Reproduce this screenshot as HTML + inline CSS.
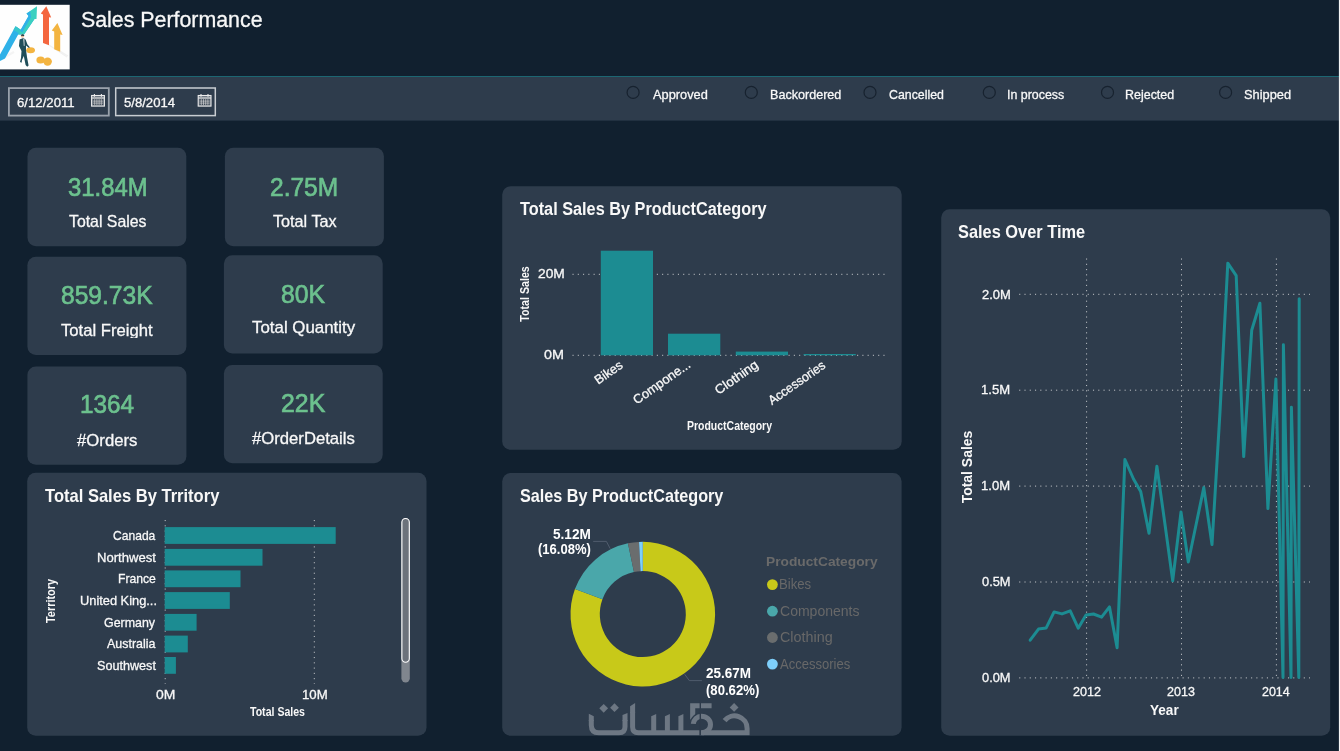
<!DOCTYPE html>
<html><head><meta charset="utf-8"><title>Sales Performance</title>
<style>
html,body{margin:0;padding:0;}
body{width:1340px;height:751px;overflow:hidden;background:#11202f;position:relative;font-family:"Liberation Sans",sans-serif;}
.t{position:absolute;white-space:nowrap;transform-origin:0 0;display:block;}
.t.c{transform-origin:50% 50%;}
.t.r{transform-origin:100% 0;}
.a{position:absolute;width:0;height:0;transform-origin:0 0;}
svg{position:absolute;left:0;top:0;}

</style></head><body>

<svg width="1340" height="751" viewBox="0 0 1340 751">
<rect x="0" y="76" width="1340" height="1.05" fill="#1c6672"/>
<rect x="0" y="77" width="1340" height="43.6" fill="#2e3c4c"/>
<rect x="8.9" y="88.1" width="99.9" height="27.5" fill="none" stroke="#99a1ab" stroke-width="1.8"/>
<rect x="115.7" y="88.0" width="99.6" height="27.6" fill="none" stroke="#c9cdd2" stroke-width="1.5"/>
<rect x="27.5" y="147.7" width="158.80" height="98.60" rx="8.5" fill="#2e3c4c"/>
<rect x="224.9" y="147.7" width="159.00" height="98.60" rx="8.5" fill="#2e3c4c"/>
<rect x="27.4" y="256.7" width="159.00" height="98.20" rx="8.5" fill="#2e3c4c"/>
<rect x="223.9" y="255.3" width="158.80" height="98.10" rx="8.5" fill="#2e3c4c"/>
<rect x="27.4" y="366.6" width="159.00" height="98.10" rx="8.5" fill="#2e3c4c"/>
<rect x="223.9" y="365.1" width="158.80" height="98.20" rx="8.5" fill="#2e3c4c"/>
<rect x="502.2" y="186.3" width="399.50" height="263.50" rx="8.5" fill="#2e3c4c"/>
<rect x="941.2" y="209.3" width="389.00" height="526.50" rx="8.5" fill="#2e3c4c"/>
<rect x="27.2" y="472.8" width="399.30" height="263.00" rx="8.5" fill="#2e3c4c"/>
<rect x="502.2" y="472.9" width="399.40" height="262.90" rx="8.5" fill="#2e3c4c"/>
<rect x="1338.9" y="0" width="1.2" height="751" fill="#f6f6f6"/>
<circle cx="633.1" cy="92.4" r="6" fill="none" stroke="#17222f" stroke-width="1.2"/>
<circle cx="751.3" cy="92.4" r="6" fill="none" stroke="#17222f" stroke-width="1.2"/>
<circle cx="870.0" cy="92.4" r="6" fill="none" stroke="#17222f" stroke-width="1.2"/>
<circle cx="989.3" cy="92.4" r="6" fill="none" stroke="#17222f" stroke-width="1.2"/>
<circle cx="1107.5" cy="92.4" r="6" fill="none" stroke="#17222f" stroke-width="1.2"/>
<circle cx="1225.6" cy="92.4" r="6" fill="none" stroke="#17222f" stroke-width="1.2"/>
<path d="M572.5 274.3H885" stroke="#e8e8e8" stroke-opacity="0.8" stroke-width="1" stroke-dasharray="1.1 4.17" fill="none"/>
<path d="M572.5 355.3H885" stroke="#e8e8e8" stroke-opacity="0.8" stroke-width="1" stroke-dasharray="1.1 4.17" fill="none"/>
<rect x="600.8" y="250.7" width="52.20" height="104.60" fill="#1c8c92"/>
<rect x="668.0" y="333.7" width="52.30" height="21.60" fill="#1c8c92"/>
<rect x="735.8" y="351.6" width="52.20" height="3.70" fill="#1c8c92"/>
<rect x="803.6" y="354.0" width="52.20" height="1.30" fill="#1c8c92"/>
<path d="M165.2 520V684" stroke="#e8e8e8" stroke-opacity="0.8" stroke-width="1" stroke-dasharray="1.1 4.17" fill="none"/>
<path d="M314.3 520V684" stroke="#e8e8e8" stroke-opacity="0.8" stroke-width="1" stroke-dasharray="1.1 4.17" fill="none"/>
<rect x="164.7" y="527.1" width="171.00" height="16.80" fill="#1c8c92"/>
<rect x="164.7" y="548.9" width="97.80" height="16.80" fill="#1c8c92"/>
<rect x="164.7" y="570.4" width="75.80" height="16.80" fill="#1c8c92"/>
<rect x="164.7" y="592.1" width="65.10" height="16.80" fill="#1c8c92"/>
<rect x="164.7" y="613.9" width="31.90" height="16.80" fill="#1c8c92"/>
<rect x="164.7" y="635.6" width="23.10" height="16.80" fill="#1c8c92"/>
<rect x="164.7" y="657.0" width="11.20" height="16.80" fill="#1c8c92"/>
<rect x="401.4" y="518" width="8.4" height="164.5" rx="4.2" fill="#80868e"/>
<rect x="401.9" y="518.5" width="7.4" height="143.8" rx="3.7" fill="#6c727b" stroke="#ffffff" stroke-width="1.1"/>
<path d="M1019.2 294.3H1310" stroke="#e8e8e8" stroke-opacity="0.8" stroke-width="1" stroke-dasharray="1.1 4.17" fill="none"/>
<path d="M1019.2 390.2H1310" stroke="#e8e8e8" stroke-opacity="0.8" stroke-width="1" stroke-dasharray="1.1 4.17" fill="none"/>
<path d="M1019.2 486.1H1310" stroke="#e8e8e8" stroke-opacity="0.8" stroke-width="1" stroke-dasharray="1.1 4.17" fill="none"/>
<path d="M1019.2 582.0H1310" stroke="#e8e8e8" stroke-opacity="0.8" stroke-width="1" stroke-dasharray="1.1 4.17" fill="none"/>
<path d="M1019.2 677.9H1310" stroke="#e8e8e8" stroke-opacity="0.8" stroke-width="1" stroke-dasharray="1.1 4.17" fill="none"/>
<path d="M1086.6 258.5V678" stroke="#e8e8e8" stroke-opacity="0.8" stroke-width="1" stroke-dasharray="1.1 4.17" fill="none"/>
<path d="M1181.5 258.5V678" stroke="#e8e8e8" stroke-opacity="0.8" stroke-width="1" stroke-dasharray="1.1 4.17" fill="none"/>
<path d="M1276.4 258.5V678" stroke="#e8e8e8" stroke-opacity="0.8" stroke-width="1" stroke-dasharray="1.1 4.17" fill="none"/>
<polyline points="1030.2,640.2 1038.5,629.1 1046.2,627.9 1054.1,611.9 1062.0,613.9 1070.2,610.8 1078.2,628.2 1086.0,615.0 1093.5,614.0 1101.6,617.2 1109.5,606.9 1117.1,647.7 1124.9,459.5 1133.5,479 1140.7,491.5 1149.0,533.2 1156.9,466.3 1164.8,523 1172.7,580.8 1181.0,512 1188.3,562 1196.0,525 1203.8,487.6 1212.0,544.6 1220.0,412 1227.8,263.2 1236.2,275.7 1243.7,456.6 1251.7,330.3 1259.9,303.3 1267.9,508.6 1275.9,379 1283.0,677.5 1283.4,344.7 1291.0,677.5 1291.4,407.2 1298.8,677.5 1299.2,298.8" fill="none" stroke="#1c8c92" stroke-width="3" stroke-linejoin="round" stroke-linecap="round"/>
<path d="M642.80 541.80A72.3 72.3 0 1 1 574.96 589.10L602.45 599.23A43.0 43.0 0 1 0 642.80 571.10Z" fill="#c8c919"/>
<path d="M574.96 589.10A72.3 72.3 0 0 1 627.92 543.35L633.95 572.02A43.0 43.0 0 0 0 602.45 599.23Z" fill="#4aa7aa"/>
<path d="M627.92 543.35A72.3 72.3 0 0 1 639.02 541.90L640.55 571.16A43.0 43.0 0 0 0 633.95 572.02Z" fill="#6a6d6e"/>
<path d="M639.02 541.90A72.3 72.3 0 0 1 642.80 541.80L642.80 571.10A43.0 43.0 0 0 0 640.55 571.16Z" fill="#7ecffa"/>
<circle cx="772.4" cy="584.6" r="5.4" fill="#c8c919"/>
<circle cx="772.4" cy="611.2" r="5.4" fill="#4aa7aa"/>
<circle cx="772.4" cy="637.5" r="5.4" fill="#6a6d6e"/>
<circle cx="772.4" cy="664.1" r="5.4" fill="#7ecffa"/>
<path d="M610.2 548.6L606.4 541.4H593.2" fill="none" stroke="#536070" stroke-width="0.9"/>
<path d="M684.7 674.3L689.3 680.6H701.9" fill="none" stroke="#536070" stroke-width="0.9"/>
<rect x="0" y="4.8" width="69.7" height="64.6" fill="#fefefe"/>
<g>
<path d="M49 45L67 57M60 51L68 56" stroke="#f1f1f1" stroke-width="1.2" fill="none"/>
<path d="M3 58L14 52" stroke="#f4f4f4" stroke-width="2" fill="none"/>
<path d="M0 54.5L15.5 26.2L21 30L29 16L34.5 19L24 34.5L18.2 34.5L5 58.5L0 61Z" fill="#2fb1e8"/>
<path d="M15.5 26.2L21 30L29 16L26.5 13.5L37 6.2L36.5 19L34.5 19L24 34.5L18.2 34.5L19.5 31Z" fill="#3bd0c0"/>
<path d="M15.5 26.2L21 30L19.2 33.5L13.5 30Z" fill="#37c6cc"/>
<path d="M20.2 30.6L28.4 15.9L26.5 13.5L30.2 11.2L31 17.3L22.2 32.4Z" fill="#2fb1e8"/>
<path d="M46.3 6.2L51.2 17.6L49 17.2L49 45.3L43 43L43 14.6L40.8 13.4Z" fill="#f4663f"/>
<path d="M57.4 23L62.6 35L60.2 34.5L60.2 51.8L54.2 49.2L54.2 31.6L51.8 30.4Z" fill="#f3b441"/>
<ellipse cx="30.6" cy="50.2" rx="4.4" ry="3" fill="#f3b441"/>
<ellipse cx="40.6" cy="60" rx="4.2" ry="3.6" fill="#f3b441"/>
<ellipse cx="47.6" cy="61.6" rx="4.3" ry="4.2" fill="#f3b441"/>
<circle cx="22.5" cy="36" r="1.7" fill="#e8b998"/>
<path d="M20.8 35.4Q22.5 33 24.3 35.2L24 36L21 35.8Z" fill="#1c3a44"/>
<path d="M19.6 39.5L23.4 38L25.6 39.5L27.5 44.5L29.8 47.2L29 47.9L26 45.5L26 50L27 57L28.6 65.6L27.2 66.8L25.6 65L23.8 56L22 60L21.6 62.8L20 62L21 58L21.5 51L19 46Z" fill="#1f4d59"/>
<path d="M23.2 38.5L23.8 46L24.6 46L24.4 38.5Z" fill="#cfd8dc"/>
</g>
<g transform="translate(91,94.1)"><rect x="0.6" y="1.4" width="12.8" height="10.6" fill="rgba(255,255,255,0.28)" stroke="#ececec" stroke-width="1.1"/><path d="M0.6 3.9H13.4" stroke="#ececec" stroke-width="1"/><path d="M3.4 0V2.6M10.4 0V2.6" stroke="#ececec" stroke-width="1.1"/><path d="M2 5.1H12V10.8H2Z" fill="#2a3746" fill-opacity="0.75"/><path d="M3.7 5V11M5.9 5V11M8.1 5V11M10.3 5V11M2 7H12M2 9H12" stroke="#e0e0e0" stroke-opacity="0.7" stroke-width="0.9"/></g>
<g transform="translate(197.6,94.1)"><rect x="0.6" y="1.4" width="12.8" height="10.6" fill="rgba(255,255,255,0.28)" stroke="#ececec" stroke-width="1.1"/><path d="M0.6 3.9H13.4" stroke="#ececec" stroke-width="1"/><path d="M3.4 0V2.6M10.4 0V2.6" stroke="#ececec" stroke-width="1.1"/><path d="M2 5.1H12V10.8H2Z" fill="#2a3746" fill-opacity="0.75"/><path d="M3.7 5V11M5.9 5V11M8.1 5V11M10.3 5V11M2 7H12M2 9H12" stroke="#e0e0e0" stroke-opacity="0.7" stroke-width="0.9"/></g>
<clipPath id="wmc"><rect x="560" y="690" width="220" height="45.8"/></clipPath>
<g clip-path="url(#wmc)" fill="none" stroke="#6d7783" stroke-width="5">
<path d="M591.3 720V725.3Q591.3 732.8 598.8 732.8H619Q625 732.8 625 726.8V720"/>
<path d="M632.6 712V727Q632.6 732.8 638.4 732.8H699.6"/>
</g>
<g clip-path="url(#wmc)" fill="#6d7783">
<path d="M588.8 713.7L593.8 716.2V721H588.8Z"/>
<path d="M622.5 715.1L627.5 712.9V721H622.5Z"/>
<path d="M630.1 706.2L635.1 703.1V713H630.1Z"/>
<path d="M651.2 716.3L656.2 714.0V732.8H651.2Z"/>
<path d="M664.9 716.3L669.9 714.0V732.8H664.9Z"/>
<path d="M678.4 716.3L683.4 714.0V732.8H678.4Z"/>
</g>
<g clip-path="url(#wmc)" fill="none" stroke="#6d7783" stroke-width="5">
<path d="M711.6 705.8H692.7V719.5" stroke-width="5.1"/>
<path d="M693.3 723.9A8.3 8.3 0 0 1 701.5 716.2A9 8.3 0 0 1 710.5 724.5" stroke="#2e3c4c" stroke-width="7.4"/>
<path d="M693.3 723.9A8.3 8.3 0 0 1 701.5 716.2A9 8.3 0 0 1 701.5 732.8"/>
<path d="M701 732.8H747.1V728.6A12.6 12.6 0 0 0 724.6 720.6"/>
</g>
<g fill="#6d7783">
<path d="M599.3000000000001 708.3L603.7 703.9L608.1 708.3L603.7 712.6999999999999Z"/>
<path d="M610.1 707.7L614.5 703.3000000000001L618.9 707.7L614.5 712.1Z"/>
<path d="M729.7 707.4L734.1 703.0L738.5 707.4L734.1 711.8Z"/>
</g>
<path d="M700.3 700V736" stroke="#2e3b4b" stroke-width="1.4"/>
</svg>
<div style="position:absolute;left:0;top:0;width:1340px;height:751px;will-change:transform">
<span class="t" style="left:80.75px;top:10.00px;font-size:21.51px;line-height:21.51px;font-weight:400;color:#f8f8f8;-webkit-text-stroke:0.3px #f8f8f8;transform:scaleX(0.9929)">Sales Performance</span>
<span class="t" style="left:17.24px;top:96.00px;font-size:13.23px;line-height:13.23px;font-weight:400;color:#f8f8f8;-webkit-text-stroke:0.3px #f8f8f8;transform:scaleX(0.9967)">6/12/2011</span>
<span class="t" style="left:124.28px;top:96.00px;font-size:13.23px;line-height:13.23px;font-weight:400;color:#f8f8f8;-webkit-text-stroke:0.3px #f8f8f8;transform:scaleX(0.9919)">5/8/2014</span>
<span class="t" style="left:652.50px;top:88.00px;font-size:13.52px;line-height:13.52px;font-weight:400;color:#f8f8f8;-webkit-text-stroke:0.3px #f8f8f8;transform:scaleX(0.9474)">Approved</span>
<span class="t" style="left:769.59px;top:88.00px;font-size:13.52px;line-height:13.52px;font-weight:400;color:#f8f8f8;-webkit-text-stroke:0.3px #f8f8f8;transform:scaleX(0.9305)">Backordered</span>
<span class="t" style="left:888.68px;top:88.00px;font-size:13.52px;line-height:13.52px;font-weight:400;color:#f8f8f8;-webkit-text-stroke:0.3px #f8f8f8;transform:scaleX(0.9134)">Cancelled</span>
<span class="t" style="left:1006.88px;top:88.00px;font-size:13.52px;line-height:13.52px;font-weight:400;color:#f8f8f8;-webkit-text-stroke:0.3px #f8f8f8;transform:scaleX(0.9187)">In process</span>
<span class="t" style="left:1125.20px;top:88.00px;font-size:13.52px;line-height:13.52px;font-weight:400;color:#f8f8f8;-webkit-text-stroke:0.3px #f8f8f8;transform:scaleX(0.9222)">Rejected</span>
<span class="t" style="left:1244.49px;top:88.00px;font-size:13.52px;line-height:13.52px;font-weight:400;color:#f8f8f8;-webkit-text-stroke:0.3px #f8f8f8;transform:scaleX(0.9481)">Shipped</span>
<span class="t" style="left:67.78px;top:175.00px;font-size:25.87px;line-height:25.87px;font-weight:400;color:#6cc18e;-webkit-text-stroke:0.7px #6cc18e;transform:scaleX(0.9219)">31.84M</span>
<span class="t" style="left:68.58px;top:214.00px;font-size:16.57px;line-height:16.57px;font-weight:400;color:#f8f8f8;-webkit-text-stroke:0.3px #f8f8f8;transform:scaleX(0.9561)">Total Sales</span>
<span class="t" style="left:270.27px;top:175.00px;font-size:25.87px;line-height:25.87px;font-weight:400;color:#6cc18e;-webkit-text-stroke:0.7px #6cc18e;transform:scaleX(0.9487)">2.75M</span>
<span class="t" style="left:272.58px;top:214.00px;font-size:16.57px;line-height:16.57px;font-weight:400;color:#f8f8f8;-webkit-text-stroke:0.3px #f8f8f8;transform:scaleX(0.9770)">Total Tax</span>
<span class="t" style="left:60.92px;top:283.00px;font-size:25.87px;line-height:25.87px;font-weight:400;color:#6cc18e;-webkit-text-stroke:0.7px #6cc18e;transform:scaleX(0.9499)">859.73K</span>
<span class="t" style="left:61.17px;top:323.00px;font-size:16.57px;line-height:16.57px;font-weight:400;color:#f8f8f8;-webkit-text-stroke:0.3px #f8f8f8;transform:scaleX(1.0046)">Total Freight</span>
<span class="t" style="left:280.81px;top:282.00px;font-size:25.87px;line-height:25.87px;font-weight:400;color:#6cc18e;-webkit-text-stroke:0.7px #6cc18e;transform:scaleX(0.9550)">80K</span>
<span class="t" style="left:251.66px;top:320.00px;font-size:16.57px;line-height:16.57px;font-weight:400;color:#f8f8f8;-webkit-text-stroke:0.3px #f8f8f8;transform:scaleX(1.0190)">Total Quantity</span>
<span class="t" style="left:80.30px;top:392.00px;font-size:25.87px;line-height:25.87px;font-weight:400;color:#6cc18e;-webkit-text-stroke:0.7px #6cc18e;transform:scaleX(0.9388)">1364</span>
<span class="t" style="left:76.90px;top:433.00px;font-size:16.57px;line-height:16.57px;font-weight:400;color:#f8f8f8;-webkit-text-stroke:0.3px #f8f8f8;transform:scaleX(1.0108)">#Orders</span>
<span class="t" style="left:280.56px;top:391.00px;font-size:25.87px;line-height:25.87px;font-weight:400;color:#6cc18e;-webkit-text-stroke:0.7px #6cc18e;transform:scaleX(0.9605)">22K</span>
<span class="t" style="left:252.00px;top:431.00px;font-size:16.57px;line-height:16.57px;font-weight:400;color:#f8f8f8;-webkit-text-stroke:0.3px #f8f8f8;transform:scaleX(1.0067)">#OrderDetails</span>
<span class="t" style="left:519.84px;top:200.00px;font-size:18.90px;line-height:18.90px;font-weight:700;color:#f8f8f8;transform:scaleX(0.8613)">Total Sales By ProductCategory</span>
<span class="t" style="left:537.51px;top:268.00px;font-size:12.50px;line-height:12.50px;font-weight:400;color:#f8f8f8;-webkit-text-stroke:0.3px #f8f8f8;transform:scaleX(1.1019)">20M</span>
<span class="t" style="left:544.37px;top:349.00px;font-size:12.50px;line-height:12.50px;font-weight:400;color:#f8f8f8;-webkit-text-stroke:0.3px #f8f8f8;transform:scaleX(1.1507)">0M</span>
<span class="t c" style="left:525.20px;top:293.60px;font-size:12.50px;line-height:12.50px;font-weight:700;color:#f8f8f8;transform:translate(-50%,-50%) rotate(-90deg) scaleX(0.8528)">Total Sales</span>
<span class="t" style="left:686.57px;top:420.00px;font-size:12.50px;line-height:12.50px;font-weight:700;color:#f8f8f8;transform:scaleX(0.8381)">ProductCategory</span>
<div class="a" style="left:624.10px;top:368.00px;transform:rotate(-35deg)"><span class="t r" style="right:-0.38px;top:-10.90px;font-size:12.79px;line-height:12.79px;font-weight:400;color:#f8f8f8;-webkit-text-stroke:0.3px #f8f8f8;transform:scaleX(0.9910)">Bikes</span></div>
<div class="a" style="left:691.40px;top:368.00px;transform:rotate(-35deg)"><span class="t r" style="right:-1.13px;top:-10.90px;font-size:12.79px;line-height:12.79px;font-weight:400;color:#f8f8f8;-webkit-text-stroke:0.3px #f8f8f8;transform:scaleX(1.0069)">Compone...</span></div>
<div class="a" style="left:759.10px;top:368.00px;transform:rotate(-35deg)"><span class="t r" style="right:-0.76px;top:-10.90px;font-size:12.79px;line-height:12.79px;font-weight:400;color:#f8f8f8;-webkit-text-stroke:0.3px #f8f8f8;transform:scaleX(1.0577)">Clothing</span></div>
<div class="a" style="left:826.90px;top:368.00px;transform:rotate(-35deg)"><span class="t r" style="right:-0.37px;top:-10.90px;font-size:12.79px;line-height:12.79px;font-weight:400;color:#f8f8f8;-webkit-text-stroke:0.3px #f8f8f8;transform:scaleX(0.9626)">Accessories</span></div>
<span class="t" style="left:957.97px;top:223.00px;font-size:18.60px;line-height:18.60px;font-weight:700;color:#f8f8f8;transform:scaleX(0.8803)">Sales Over Time</span>
<span class="t" style="left:981.55px;top:289.00px;font-size:12.50px;line-height:12.50px;font-weight:400;color:#f8f8f8;-webkit-text-stroke:0.3px #f8f8f8;transform:scaleX(1.0361)">2.0M</span>
<span class="t" style="left:981.28px;top:384.00px;font-size:12.50px;line-height:12.50px;font-weight:400;color:#f8f8f8;-webkit-text-stroke:0.3px #f8f8f8;transform:scaleX(1.0461)">1.5M</span>
<span class="t" style="left:981.28px;top:480.00px;font-size:12.50px;line-height:12.50px;font-weight:400;color:#f8f8f8;-webkit-text-stroke:0.3px #f8f8f8;transform:scaleX(1.0461)">1.0M</span>
<span class="t" style="left:981.82px;top:576.00px;font-size:12.50px;line-height:12.50px;font-weight:400;color:#f8f8f8;-webkit-text-stroke:0.3px #f8f8f8;transform:scaleX(1.0263)">0.5M</span>
<span class="t" style="left:981.82px;top:672.00px;font-size:12.50px;line-height:12.50px;font-weight:400;color:#f8f8f8;-webkit-text-stroke:0.3px #f8f8f8;transform:scaleX(1.0263)">0.0M</span>
<span class="t" style="left:1072.57px;top:686.00px;font-size:12.79px;line-height:12.79px;font-weight:400;color:#f8f8f8;-webkit-text-stroke:0.3px #f8f8f8;transform:scaleX(0.9844)">2012</span>
<span class="t" style="left:1167.47px;top:686.00px;font-size:12.79px;line-height:12.79px;font-weight:400;color:#f8f8f8;-webkit-text-stroke:0.3px #f8f8f8;transform:scaleX(0.9798)">2013</span>
<span class="t" style="left:1262.38px;top:686.00px;font-size:12.79px;line-height:12.79px;font-weight:400;color:#f8f8f8;-webkit-text-stroke:0.3px #f8f8f8;transform:scaleX(0.9752)">2014</span>
<span class="t" style="left:1150.46px;top:703.00px;font-size:14.83px;line-height:14.83px;font-weight:700;color:#f8f8f8;transform:scaleX(0.9148)">Year</span>
<span class="t c" style="left:966.50px;top:467.00px;font-size:14.83px;line-height:14.83px;font-weight:700;color:#f8f8f8;transform:translate(-50%,-50%) rotate(-90deg) scaleX(0.9413)">Total Sales</span>
<span class="t" style="left:44.63px;top:487.00px;font-size:18.31px;line-height:18.31px;font-weight:700;color:#f8f8f8;transform:scaleX(0.9040)">Total Sales By Trritory</span>
<span class="t" style="left:113.20px;top:529.00px;font-size:13.37px;line-height:13.37px;font-weight:400;color:#f8f8f8;-webkit-text-stroke:0.3px #f8f8f8;transform:scaleX(0.9043)">Canada</span>
<span class="t" style="left:96.55px;top:551.00px;font-size:13.37px;line-height:13.37px;font-weight:400;color:#f8f8f8;-webkit-text-stroke:0.3px #f8f8f8;transform:scaleX(0.9805)">Northwest</span>
<span class="t" style="left:118.13px;top:572.00px;font-size:13.37px;line-height:13.37px;font-weight:400;color:#f8f8f8;-webkit-text-stroke:0.3px #f8f8f8;transform:scaleX(0.9110)">France</span>
<span class="t" style="left:79.70px;top:594.00px;font-size:13.37px;line-height:13.37px;font-weight:400;color:#f8f8f8;-webkit-text-stroke:0.3px #f8f8f8;transform:scaleX(0.9595)">United King...</span>
<span class="t" style="left:104.48px;top:616.00px;font-size:13.37px;line-height:13.37px;font-weight:400;color:#f8f8f8;-webkit-text-stroke:0.3px #f8f8f8;transform:scaleX(0.9297)">Germany</span>
<span class="t" style="left:107.10px;top:637.00px;font-size:13.37px;line-height:13.37px;font-weight:400;color:#f8f8f8;-webkit-text-stroke:0.3px #f8f8f8;transform:scaleX(0.9313)">Australia</span>
<span class="t" style="left:96.59px;top:659.00px;font-size:13.37px;line-height:13.37px;font-weight:400;color:#f8f8f8;-webkit-text-stroke:0.3px #f8f8f8;transform:scaleX(0.9446)">Southwest</span>
<span class="t" style="left:155.68px;top:689.00px;font-size:12.50px;line-height:12.50px;font-weight:400;color:#f8f8f8;-webkit-text-stroke:0.3px #f8f8f8;transform:scaleX(1.1134)">0M</span>
<span class="t" style="left:302.38px;top:689.00px;font-size:12.50px;line-height:12.50px;font-weight:400;color:#f8f8f8;-webkit-text-stroke:0.3px #f8f8f8;transform:scaleX(1.0564)">10M</span>
<span class="t" style="left:249.59px;top:706.00px;font-size:12.50px;line-height:12.50px;font-weight:700;color:#f8f8f8;transform:scaleX(0.8451)">Total Sales</span>
<span class="t c" style="left:50.60px;top:600.80px;font-size:12.50px;line-height:12.50px;font-weight:700;color:#f8f8f8;transform:translate(-50%,-50%) rotate(-90deg) scaleX(0.8730)">Territory</span>
<span class="t" style="left:519.68px;top:487.00px;font-size:18.31px;line-height:18.31px;font-weight:700;color:#f8f8f8;transform:scaleX(0.8850)">Sales By ProductCategory</span>
<span class="t" style="left:552.89px;top:527.00px;font-size:14.24px;line-height:14.24px;font-weight:700;color:#ffffff;transform:scaleX(0.9565)">5.12M</span>
<span class="t" style="left:537.58px;top:542.00px;font-size:14.24px;line-height:14.24px;font-weight:700;color:#ffffff;transform:scaleX(0.9150)">(16.08%)</span>
<span class="t" style="left:705.69px;top:666.00px;font-size:14.24px;line-height:14.24px;font-weight:700;color:#ffffff;transform:scaleX(0.9483)">25.67M</span>
<span class="t" style="left:705.57px;top:683.00px;font-size:14.24px;line-height:14.24px;font-weight:700;color:#ffffff;transform:scaleX(0.9220)">(80.62%)</span>
<span class="t" style="left:765.87px;top:555.00px;font-size:13.37px;line-height:13.37px;font-weight:700;color:#6a6a6a;transform:scaleX(1.0294)">ProductCategory</span>
<span class="t" style="left:779.25px;top:577.00px;font-size:14.10px;line-height:14.10px;font-weight:400;color:#686868;transform:scaleX(0.9324)">Bikes</span>
<span class="t" style="left:779.60px;top:604.00px;font-size:14.10px;line-height:14.10px;font-weight:400;color:#686868;transform:scaleX(0.9948)">Components</span>
<span class="t" style="left:779.58px;top:630.00px;font-size:14.10px;line-height:14.10px;font-weight:400;color:#686868;transform:scaleX(1.0173)">Clothing</span>
<span class="t" style="left:780.30px;top:657.00px;font-size:14.10px;line-height:14.10px;font-weight:400;color:#686868;transform:scaleX(0.9235)">Accessories</span>
<div style="position:absolute;left:100px;top:338px;width:40px;height:4px;background:#2e3c4c"></div>
</div>
</body></html>
